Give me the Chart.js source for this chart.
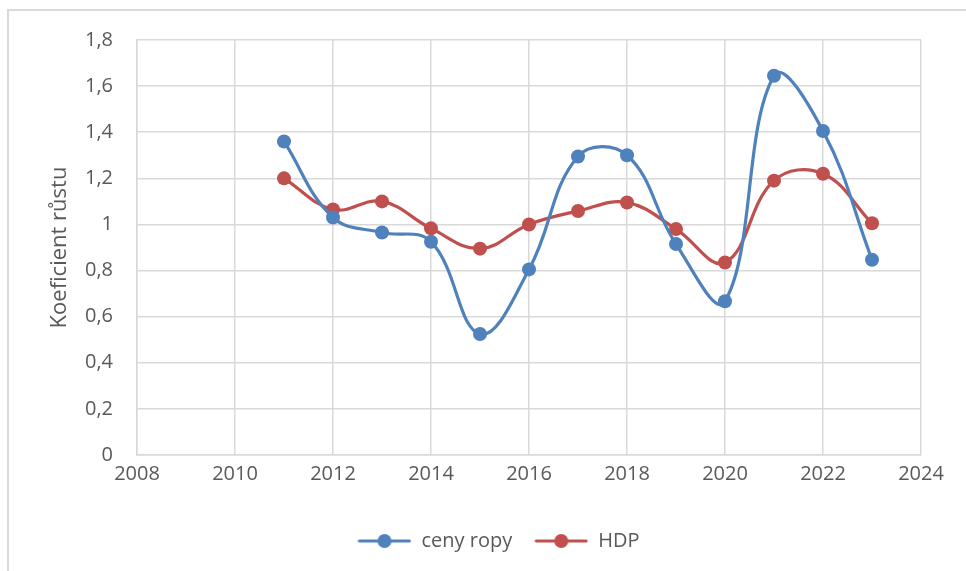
<!DOCTYPE html>
<html lang="cs">
<head>
<meta charset="utf-8">
<title>Koeficient růstu</title>
<script src="https://cdn.jsdelivr.net/npm/chart.js@4/dist/chart.umd.min.js"></script>
<style>
  html, body { margin: 0; padding: 0; background: #fff; overflow: hidden; }
  .frame {
    position: absolute; left: 7px; top: 9px; width: 1000px; height: 600px;
    border-left: 2px solid #d9d9d9; border-top: 2px solid #d9d9d9;
  }
  .wrap { position: absolute; left: 0; top: 0; width: 966px; height: 571px; }
</style>
</head>
<body>
<div class="frame"></div>
<div class="wrap"><canvas id="ch"></canvas></div>
<script>
// ── data ──────────────────────────────────────────
const ROKY     = [2011, 2012, 2013, 2014, 2015, 2016, 2017, 2018, 2019, 2020, 2021, 2022, 2023];
const ROPA     = [1.36, 1.03, 0.965, 0.925, 0.525, 0.805, 1.295, 1.30, 0.915, 0.667, 1.645, 1.405, 0.847];
const HDP      = [1.20, 1.065, 1.10, 0.983, 0.895, 1.00, 1.058, 1.095, 0.98, 0.835, 1.19, 1.22, 1.005];
const X_TICKS  = [2008, 2010, 2012, 2014, 2016, 2018, 2020, 2022, 2024];
const Y_TICKS  = [0, 0.2, 0.4, 0.6, 0.8, 1, 1.2, 1.4, 1.6, 1.8];

const BLUE = '#4f81bd', RED = '#c0504d', GRID = '#d9d9d9', TXT = '#595959';

const pts = ys => ROKY.map((r, i) => ({ x: r, y: ys[i] }));

// legend glyph: line + marker like Excel
function legendIcon(color) {
  const c = document.createElement('canvas');
  c.width = 54; c.height = 16;
  const g = c.getContext('2d');
  g.strokeStyle = color; g.lineWidth = 3; g.lineCap = 'round';
  g.beginPath(); g.moveTo(2, 8); g.lineTo(52, 8); g.stroke();
  g.fillStyle = color;
  g.beginPath(); g.arc(27, 8, 7, 0, Math.PI * 2); g.fill();
  return c;
}

const shiftLegend = {
  id: 'shiftLegend',
  afterLayout(chart) {
    const lg = chart.legend;
    if (lg) { lg.left += 38; lg.right += 38; }
  }
};

const ds = (label, data, color) => ({
  label, data: pts(data),
  borderColor: color, backgroundColor: color,
  borderWidth: 3.2, pointRadius: 7, pointHoverRadius: 7,
  pointBorderWidth: 0, tension: 0.4, showLine: true, fill: false,
  cubicInterpolationMode: 'default'
});

new Chart(document.getElementById('ch'), {
  type: 'scatter',
  data: { datasets: [ds('ceny ropy', ROPA, BLUE), ds('HDP', HDP, RED)] },
  options: {
    responsive: true, maintainAspectRatio: false, animation: false,
    layout: { padding: { left: 0, right: 45, top: 40, bottom: 10 } },
    plugins: {
      tooltip: { enabled: false },
      legend: {
        position: 'bottom',
        labels: {
          usePointStyle: true, pointStyleWidth: 54, boxHeight: 16,
          color: TXT, font: { family: 'Open Sans', size: 20 }, padding: 22,
          generateLabels: chart => chart.data.datasets.map((d, i) => ({
            text: d.label, fillStyle: d.borderColor, strokeStyle: d.borderColor,
            lineWidth: 0, pointStyle: legendIcon(d.borderColor), datasetIndex: i,
            fontColor: TXT
          }))
        }
      }
    },
    scales: {
      x: {
        type: 'linear', min: 2008, max: 2024,
        afterBuildTicks: s => { s.ticks = X_TICKS.map(v => ({ value: v })); },
        afterFit: s => { s.height = 54; },
        grid: { color: GRID, lineWidth: 1.5, drawTicks: false },
        border: { display: true, color: GRID, width: 1.5 },
        ticks: { color: TXT, font: { family: 'Open Sans', size: 20 }, padding: 7, callback: v => String(v) }
      },
      y: {
        min: 0, max: 1.8,
        afterBuildTicks: s => { s.ticks = Y_TICKS.map(v => ({ value: v })); },
        afterFit: s => { s.width = 137; },
        grid: { color: GRID, lineWidth: 1.5, drawTicks: false },
        border: { display: true, color: GRID, width: 1.5 },
        ticks: {
          color: TXT, font: { family: 'Open Sans', size: 20 }, padding: 24,
          callback: v => String(Math.round(v * 10) / 10).replace('.', ',')
        },
        title: {
          display: true, text: 'Koeficient růstu', color: TXT,
          font: { family: 'Open Sans', size: 22 }, padding: { top: 47 }
        }
      }
    }
  },
  plugins: [shiftLegend]
});
</script>
</body>
</html>
